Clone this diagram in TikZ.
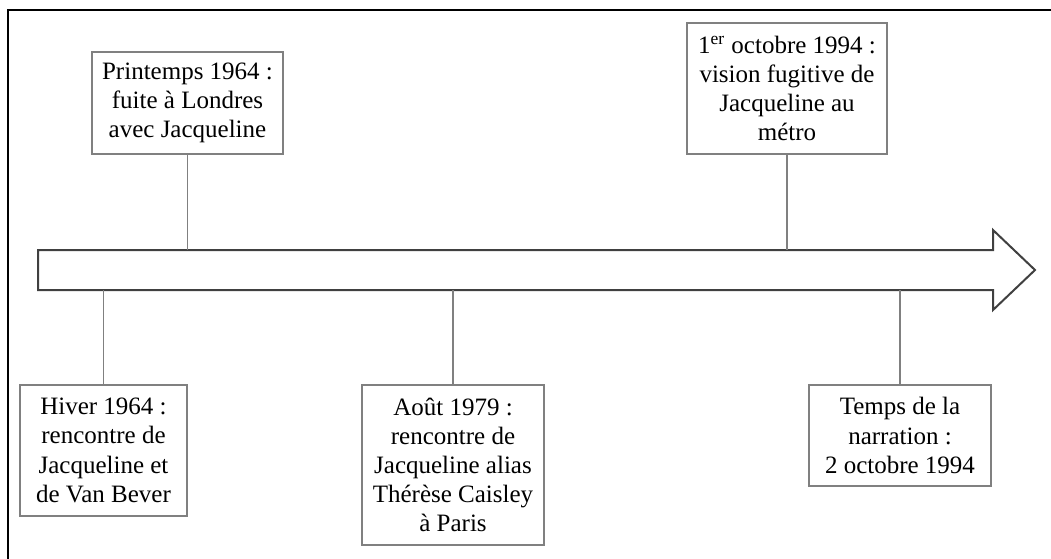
\documentclass[tikz,border=0pt]{standalone}
\usepackage{fontspec}
\setmainfont{Liberation Serif}
\usepackage{xcolor}
\usepackage{tikz}
\usetikzlibrary{positioning}

\tikzset{
  evt/.style={draw=gray,line width=0.6pt,align=center,font=\fontsize{12.5}{14.6}\selectfont,inner sep=0pt},
  lien/.style={draw=gray,line width=0.6pt}
}

\begin{document}
\begin{tikzpicture}[x=0.5pt,y=-0.5pt]
    \useasboundingbox (0,0) rectangle (1051,558);
    \clip (0,0) rectangle (1051,558);
    % cadre
    \draw[black,line width=1pt] (8,10) rectangle (1070,580);
    % axe du temps
    \coordinate (haut) at (0,250);
    \coordinate (bas) at (0,290);
    \draw[gray!50!black,line width=1pt,line join=miter]
      (38,250) -- (993,250) -- (993,230) -- (1035,270) -- (993,310) -- (993,290) -- (38,290) -- cycle;
    % evenements au-dessus
    \node[evt,minimum width=191*0.5pt,minimum height=102*0.5pt] (printemps) at (187.5,103)
      {Printemps 1964 :\\fuite à Londres\\avec Jacqueline};
    \node[evt,minimum width=200*0.5pt,minimum height=131*0.5pt] (metro) at (787,88.5)
      {1\textsuperscript{er} octobre 1994 :\\vision fugitive de\\Jacqueline au\\métro};
    % evenements au-dessous
    \node[evt,minimum width=167*0.5pt,minimum height=131*0.5pt] (hiver) at (103.5,450.5)
      {Hiver 1964 :\\rencontre de\\Jacqueline et\\de Van Bever};
    \node[evt,minimum width=182*0.5pt,minimum height=160*0.5pt] (aout) at (453,465)
      {Août 1979 :\\rencontre de\\Jacqueline alias\\Thérèse Caisley\\à Paris};
    \node[evt,minimum width=182*0.5pt,minimum height=101*0.5pt] (narration) at (900,435.5)
      {Temps de la\\narration :\\2 octobre 1994};
    % liens
    \draw[lien] (printemps.south) -- (printemps.south |- haut);
    \draw[lien] (metro.south) -- (metro.south |- haut);
    \draw[lien] (hiver.north) -- (hiver.north |- bas);
    \draw[lien] (aout.north) -- (aout.north |- bas);
    \draw[lien] (narration.north) -- (narration.north |- bas);
\end{tikzpicture}
\end{document}
